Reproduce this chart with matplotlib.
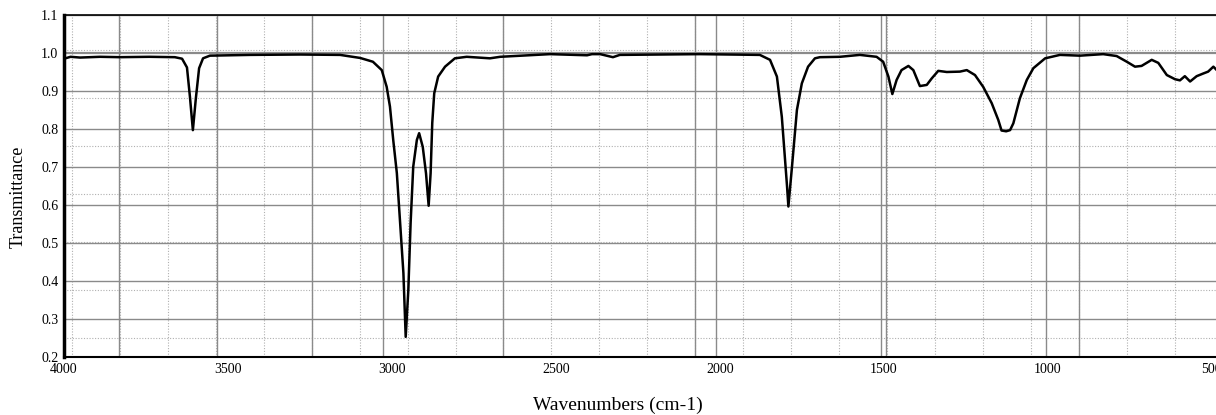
import matplotlib.pyplot as plt
import numpy as np

# spectrum (wavenumber in cm-1, transmittance)
wavenumber = [4000, 3980, 3951, 3890, 3830, 3740, 3662, 3640, 3625, 3616,
              3607, 3598, 3588, 3576, 3555, 3433, 3280, 3158, 3097, 3058,
              3031, 3016, 3006, 2996, 2985, 2975, 2965, 2958, 2950, 2943,
              2935, 2924, 2917, 2906, 2896, 2888, 2882, 2877, 2871, 2859,
              2838, 2808, 2772, 2701, 2670, 2518, 2405, 2390, 2365, 2326,
              2305, 2061, 1878, 1847, 1826, 1811, 1795, 1791, 1780, 1765,
              1750, 1731, 1710, 1695, 1634, 1573, 1522, 1502, 1486, 1474,
              1461, 1446, 1425, 1410, 1390, 1369, 1354, 1334, 1308, 1268,
              1247, 1222, 1197, 1171, 1151, 1141, 1127, 1115, 1105, 1085,
              1064, 1044, 1008, 963, 902, 831, 790, 759, 734, 714,
              683, 663, 637, 612, 597, 582, 566, 546, 526, 511,
              495, 487]
transmittance = [0.985, 0.990, 0.988, 0.990, 0.989, 0.990, 0.989, 0.985, 0.962, 0.885,
                 0.797, 0.880, 0.960, 0.986, 0.993, 0.995, 0.996, 0.995, 0.987, 0.977,
                 0.955, 0.911, 0.859, 0.771, 0.684, 0.553, 0.421, 0.253, 0.376, 0.553,
                 0.701, 0.771, 0.789, 0.753, 0.683, 0.598, 0.684, 0.816, 0.894, 0.938,
                 0.964, 0.986, 0.990, 0.986, 0.990, 0.997, 0.994, 0.997, 0.997, 0.989,
                 0.995, 0.997, 0.995, 0.982, 0.938, 0.832, 0.648, 0.596, 0.701, 0.850,
                 0.920, 0.964, 0.986, 0.989, 0.990, 0.995, 0.990, 0.977, 0.938, 0.892,
                 0.929, 0.955, 0.966, 0.955, 0.913, 0.916, 0.933, 0.953, 0.950, 0.951,
                 0.955, 0.942, 0.911, 0.868, 0.824, 0.796, 0.794, 0.797, 0.815, 0.881,
                 0.929, 0.960, 0.986, 0.995, 0.993, 0.997, 0.992, 0.977, 0.964, 0.966,
                 0.982, 0.974, 0.942, 0.931, 0.928, 0.939, 0.925, 0.939, 0.946, 0.951,
                 0.964, 0.957]

x_ticks = [4000, 3500, 3000, 2500, 2000, 1500, 1000, 500]
y_ticks = [0.2, 0.3, 0.4, 0.5, 0.6, 0.7, 0.8, 0.9, 1.0, 1.1]

plt.rcParams['font.family'] = ['Liberation Serif', 'DejaVu Serif']

fig = plt.figure(figsize=(12.16, 4.15), dpi=100)
ax = fig.add_axes([64 / 1216, 58 / 415, 1 - 64 / 1216, 342 / 415])

# the scanned chart carries two overlaid grids
for x in np.arange(3975.6, 480, -146.2):
    ax.axvline(x, color='#b0b0b0', lw=0.8, ls=(0, (1, 1.5)), zorder=1)
for y in np.arange(0.25, 1.05, 0.1265):
    ax.axhline(y, color='#b0b0b0', lw=0.8, ls=(0, (1, 1.5)), zorder=1)
for x in [3832, 3533, 3244, 3027, 2661, 2076, 2012, 1509, 1493, 1005, 905]:
    ax.axvline(x, color='#8a8a8a', lw=1.0, zorder=1)
for y in y_ticks:
    ax.axhline(y, color='#8a8a8a', lw=1.0 if y != 1.0 else 1.6, zorder=1)

ax.plot(wavenumber, transmittance, color='black', lw=1.8, zorder=3)

ax.set_xlim(4000, 487)
ax.set_ylim(0.2, 1.1)
ax.set_xticks(x_ticks)
ax.set_yticks(y_ticks)
ax.set_xticklabels([str(t) for t in x_ticks])
ax.set_yticklabels(['%.1f' % t for t in y_ticks])
ax.tick_params(length=0, labelsize=10, pad=4)

ax.spines['right'].set_visible(False)
ax.spines['left'].set_linewidth(2.5)
ax.spines['bottom'].set_linewidth(1.5)
ax.spines['top'].set_linewidth(1.2)

fig.text(618 / 1216, 1 - 405 / 415, 'Wavenumbers (cm-1)', ha='center', va='center', fontsize=14)
fig.text(18 / 1216, 1 - 197 / 415, 'Transmittance', ha='center', va='center',
         rotation=90, fontsize=13)

plt.savefig('out.png', dpi=100)
